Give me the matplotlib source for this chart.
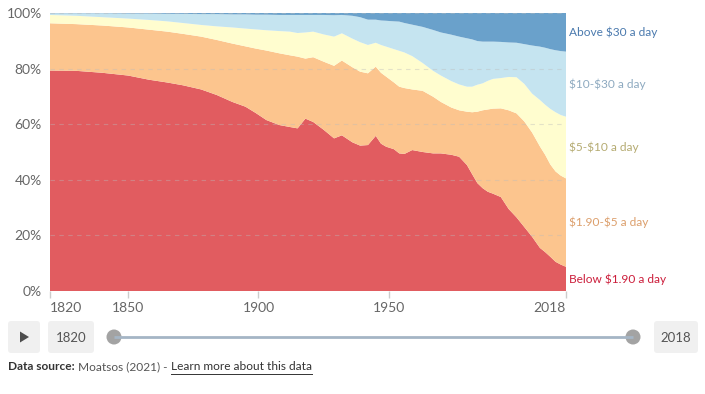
import numpy as np
import matplotlib
matplotlib.use("Agg")
import matplotlib.pyplot as plt
from matplotlib.patches import FancyBboxPatch, Circle, Polygon

plt.rcParams['font.family'] = ['Lato', 'DejaVu Sans']

years = [1820, 1830, 1840, 1850, 1858, 1865, 1871, 1878, 1884, 1890, 1895, 1899,
         1903, 1908, 1912, 1915, 1918, 1921, 1925, 1929, 1932, 1936, 1939, 1942,
         1945, 1947, 1949, 1952, 1954, 1956, 1959, 1963, 1967, 1970, 1974, 1977,
         1980, 1982, 1984, 1986, 1988, 1990, 1993, 1996, 1999, 2002, 2005, 2008,
         2010, 2012, 2014, 2016, 2018]

# Share of population living below each threshold (cumulative, %)
below_190 = [79.3, 79.2, 78.5, 77.5, 76.0, 75.0, 74.0, 72.5, 70.5, 68.0, 66.3, 64.0,
             61.5, 59.7, 59.0, 58.5, 62.0, 60.8, 58.0, 54.9, 56.0, 53.5, 52.3, 52.5,
             55.8, 53.0, 51.9, 51.0, 49.5, 49.3, 50.7, 50.0, 49.5, 49.5, 49.0, 48.3,
             45.3, 42.0, 38.8, 37.0, 35.7, 35.0, 33.8, 29.5, 26.5, 23.0, 19.5, 15.5,
             14.0, 12.3, 10.5, 9.5, 8.7]
below_5 = [96.3, 96.0, 95.5, 94.8, 94.0, 93.3, 92.5, 91.5, 90.3, 89.0, 88.0, 87.2,
           86.5, 85.5, 84.8, 84.3, 83.6, 84.1, 82.5, 81.0, 82.9, 80.5, 78.9, 78.3,
           80.7, 78.5, 77.1, 75.0, 73.5, 73.0, 72.5, 72.0, 69.9, 68.0, 66.0, 65.0,
           64.5, 64.3, 64.5, 65.0, 65.3, 65.6, 65.7, 65.0, 63.9, 61.0, 57.0, 52.0,
           49.0, 45.5, 43.0, 41.5, 40.5]
below_10 = [99.3, 99.0, 98.5, 98.0, 97.5, 97.0, 96.4, 95.7, 95.2, 94.8, 94.4, 94.1,
            93.8, 93.5, 93.3, 92.8, 93.0, 93.3, 92.3, 91.5, 92.7, 90.8, 89.5, 88.5,
            89.3, 88.5, 87.9, 87.0, 86.4, 85.8, 84.5, 82.0, 79.2, 77.5, 75.5, 74.3,
            73.5, 73.5, 74.2, 74.7, 75.6, 76.3, 76.6, 77.0, 76.9, 74.5, 71.0, 68.7,
            67.0, 65.5, 64.3, 63.3, 62.7]
below_30 = [99.9, 99.9, 99.9, 99.8, 99.8, 99.7, 99.7, 99.6, 99.6, 99.5, 99.5, 99.4,
            99.4, 99.3, 99.3, 99.3, 99.3, 99.3, 99.3, 99.2, 99.3, 99.0, 98.5, 97.6,
            97.6, 97.3, 97.2, 97.0, 96.9, 96.4, 95.8, 95.0, 93.9, 93.0, 92.2, 91.5,
            90.9, 90.5, 89.9, 89.7, 89.7, 89.7, 89.6, 89.4, 89.3, 88.8, 88.3, 87.9,
            87.5, 87.0, 86.6, 86.3, 86.1]

series_names = ["Below $1.90 a day", "$1.90-$5 a day", "$5-$10 a day",
                "$10-$30 a day", "Above $30 a day"]
fill_colors = ["#e15c60", "#fcc58e", "#fffdcf", "#c5e4f0", "#6aa1cb"]
label_colors = ["#cc1f3c", "#dc9f6c", "#b5ab72", "#8eaac0", "#4b7aae"]

x_ticks = [1820, 1850, 1900, 1950, 2018]
y_ticks = [0, 20, 40, 60, 80, 100]

cum = np.vstack([np.zeros(len(years)), below_190, below_5, below_10, below_30,
                 np.full(len(years), 100.0)])
shares = np.diff(cum, axis=0)

W, H = 705, 394
fig = plt.figure(figsize=(W / 100, H / 100), dpi=100)
ax = fig.add_axes([50 / W, (H - 291) / H, (566 - 50) / W, (291 - 13) / H])

ax.stackplot(years, shares, colors=fill_colors, linewidth=0)
ax.set_xlim(1820, 2018)
ax.set_ylim(0, 100)

for v in y_ticks[1:]:
    ax.axhline(v, color="#bbbbbb", lw=0.8, ls=(0, (4, 4)), alpha=0.4, zorder=5)

for s in ax.spines.values():
    s.set_visible(False)

ax.set_yticks(y_ticks)
ax.set_yticklabels([f"{v}%" for v in y_ticks])
ax.tick_params(axis="y", length=0, pad=6, labelsize=10, labelcolor="#666666")
ax.set_xticks(x_ticks)
ax.set_xticklabels([str(v) for v in x_ticks])
ax.tick_params(axis="x", length=5, width=1, color="#cccccc", pad=3,
               labelsize=10, labelcolor="#666666")
xl = ax.get_xticklabels()
xl[0].set_ha("left")
xl[-1].set_ha("right")

# right-hand labels at band midpoints for the last year
last = cum[:, -1]
for i, name in enumerate(series_names):
    mid = (last[i] + last[i + 1]) / 2
    ax.annotate(name, xy=(1, mid), xycoords=("axes fraction", "data"),
                xytext=(2.5, 0), textcoords="offset points", va="center",
                ha="left", fontsize=8.6, color=label_colors[i],
                annotation_clip=False, parse_math=False)

# overlay for controls (pixel coordinates)
ov = fig.add_axes([0, 0, 1, 1])
ov.set_xlim(0, W)
ov.set_ylim(H, 0)
ov.axis("off")
ov.patch.set_alpha(0)

def box(x0, x1, y0, y1):
    ov.add_patch(FancyBboxPatch((x0, y0), x1 - x0, y1 - y0,
                                boxstyle="round,pad=0,rounding_size=3",
                                fc="#f0f0f0", ec="none"))

box(8, 40, 321, 353)
ov.add_patch(Polygon([[20, 331.5], [20, 342.5], [29, 337]], closed=True,
                     fc="#4d4d4d", ec="none"))
box(48, 94, 321, 353)
ov.text(71, 337.5, "1820", ha="center", va="center", fontsize=9.5, color="#555555")
box(654, 698, 321, 353)
ov.text(676, 337.5, "2018", ha="center", va="center", fontsize=9.5, color="#555555")
ov.plot([114, 633], [337, 337], color="#a5b5c5", lw=2, solid_capstyle="butt")
ov.add_patch(Circle((114, 337), 7.5, fc="#a3a3a3", ec="none"))
ov.add_patch(Circle((633, 337), 7.5, fc="#a3a3a3", ec="none"))

fig.canvas.draw()
renderer = fig.canvas.get_renderer()
fs = 8.6
t1 = ov.text(8, 367, "Data source:", ha="left", va="center", fontsize=fs,
             fontweight="bold", color="#333333")
bb = t1.get_window_extent(renderer)
x = bb.x1 + 3
t2 = fig.text(x / W, 1 - 367 / H, "Moatsos (2021) - ", ha="left", va="center",
              fontsize=fs, color="#555555")
bb2 = t2.get_window_extent(renderer)
x = bb2.x1 + 1
t3 = fig.text(x / W, 1 - 367 / H, "Learn more about this data", ha="left",
              va="center", fontsize=fs, color="#333333")
bb3 = t3.get_window_extent(renderer)
ov.plot([bb3.x0, bb3.x1], [373.5, 373.5], color="#333333", lw=0.7)

fig.savefig("out.png", dpi=100)
